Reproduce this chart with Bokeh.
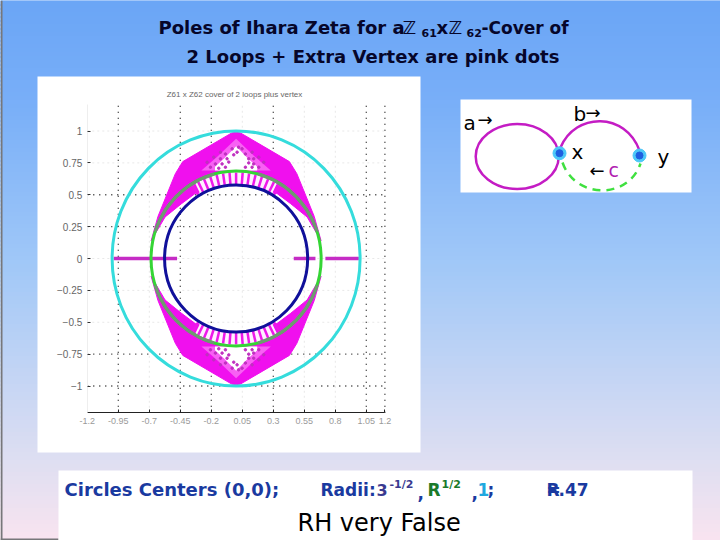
from bokeh.plotting import figure
from bokeh.models import Range1d, LinearAxis, FixedTicker
from bokeh.core.properties import value
from bokeh.embed import file_html
from bokeh.resources import INLINE
import numpy as np

# ---- data
radii = [0.577, 0.686, 1.0]
radii_colors = ["#10109a", "#35d535", "#35dcdc"]
x_ticks = [-1.2, -0.95, -0.7, -0.45, -0.2, 0.05, 0.3, 0.55, 0.8, 1.05, 1.2]
x_labels = ["-1.2", "-0.95", "-0.7", "-0.45", "-0.2", "0.05", "0.3", "0.55", "0.8", "1.05", "1.2"]
y_ticks = [-1, -0.75, -0.5, -0.25, 0, 0.25, 0.5, 0.75, 1]
grid_v_dark = [-0.95, -0.45, -0.2, 0.3, 1.05, 1.2]
grid_v_faint = [-0.7, 0.05, 0.55, 0.8]
grid_h_dark = [0.5, 0.25, -0.75, -1]
grid_h_faint = [1, 0.75, 0, -0.25, -0.5]

pink_x = [0.0, 0.035, 0.43, 0.49, 0.63, 0.685, 0.573, 0.44, 0.33, 0.17, 0.0,
          -0.17, -0.33, -0.44, -0.573, -0.685, -0.63, -0.49, -0.43, -0.035]
pink_y = [0.99, 0.985, 0.76, 0.665, 0.33, 0.14, 0.325, 0.43, 0.51, 0.56, 0.58,
          0.56, 0.51, 0.43, 0.325, 0.14, 0.33, 0.665, 0.76, 0.985]
halo_x = [0.0, 0.15, 0.28, -0.28, -0.15]
halo_y = [0.94, 0.80, 0.69, 0.69, 0.80]
hole_x = [0.0, 0.09, 0.17, 0.17, -0.17, -0.17, -0.09]
hole_y = [0.88, 0.79, 0.72, 0.69, 0.69, 0.72, 0.79]
gap_x = [-0.33, -0.20, -0.10, 0, 0.10, 0.20, 0.33, 0.29, 0.17, 0.09, 0, -0.09, -0.17, -0.29]
gap_y = [0.59, 0.65, 0.672, 0.68, 0.672, 0.65, 0.59, 0.51, 0.56, 0.578, 0.585, 0.578, 0.56, 0.51]
spoke_x0 = [0, 0.046, 0.092, 0.136, 0.181, 0.224, 0.266, 0.305, -0.046, -0.092, -0.136, -0.181, -0.224, -0.266, -0.305]
spoke_y0 = [0.585, 0.583, 0.578, 0.569, 0.556, 0.541, 0.521, 0.499, 0.583, 0.578, 0.569, 0.556, 0.541, 0.521, 0.499]
spoke_x1 = [0, 0.053, 0.105, 0.157, 0.209, 0.259, 0.306, 0.352, -0.053, -0.105, -0.157, -0.209, -0.259, -0.306, -0.352]
spoke_y1 = [0.675, 0.673, 0.667, 0.656, 0.642, 0.624, 0.601, 0.576, 0.673, 0.667, 0.656, 0.642, 0.624, 0.601, 0.576]
dots_x = [-0.032, 0.048, -0.086, -0.019, 0.075, -0.126, -0.073, 0.102, 0.142, -0.167, -0.113, -0.059, 0.102, 0.142,
          -0.207, -0.14, -0.086, 0.075, 0.129, 0.183, -0.234, 0.223, -0.18, 0.183, -0.126, 0.129, 0.02, 0.008]
dots_y = [0.86, 0.86, 0.82, 0.813, 0.82, 0.782, 0.782, 0.782, 0.782, 0.742, 0.742, 0.756, 0.75, 0.742,
          0.716, 0.708, 0.716, 0.716, 0.716, 0.716, 0.755, 0.755, 0.795, 0.795, 0.834, 0.834, 0.873, 0.834]
arc_x = [0.178, 0.29, 0.393, 0.485, 0.562, 0.622, 0.652]
arc_y = [0.663, 0.622, 0.562, 0.485, 0.393, 0.29, 0.212]
real_x0 = [-0.987, 0.465, 0.72]
real_x1 = [-0.476, 0.64, 0.99]

bg_y = [0, 100, 260, 460, 540]
bg_r = [107, 121, 160, 223, 250]
bg_g = [166, 175, 200, 223, 228]
bg_b = [246, 249, 248, 242, 240]

# ---- page in pixel coordinates, plot in its own data coordinates
p = figure(width=720, height=540, x_range=(0, 720), y_range=(540, 0),
           x_axis_location=None, y_axis_location=None, toolbar_location=None,
           output_backend="svg", min_border=0, outline_line_color=None)
p.grid.visible = False
p.extra_x_ranges["dx"] = Range1d(start=(0 - 235.6) / 124, end=(720 - 235.6) / 124)
p.extra_y_ranges["dy"] = Range1d(start=(258 - 540) / 127.5, end=(258 - 0) / 127.5)
D = dict(x_range_name="dx", y_range_name="dy")

edges = np.arange(0, 540, 4)
r = np.interp(edges, bg_y, bg_r).astype(int)
g = np.interp(edges, bg_y, bg_g).astype(int)
b = np.interp(edges, bg_y, bg_b).astype(int)
cols = [f"#{a:02x}{c:02x}{d:02x}" for a, c, d in zip(r, g, b)]
p.quad(left=0, right=720, top=edges, bottom=edges + 5, fill_color=cols, line_color=cols)
p.segment(x0=[1, 0], y0=[0, 539], x1=[1, 58], y1=[540, 539], line_color="#77777a", line_width=2)

# panels
p.quad(left=[37, 460, 58], right=[420, 691, 692], top=[76, 99, 470], bottom=[452, 192, 540],
       fill_color="white", line_color=None)

# grid
p.segment(x0=grid_v_dark, y0=-1.21, x1=grid_v_dark, y1=1.21, line_color="#222222", line_dash="1 5", line_width=1.3, **D)
p.segment(x0=grid_v_faint, y0=-1.21, x1=grid_v_faint, y1=1.21, line_color="#e8e8e8", line_dash="2 3", **D)
p.segment(x0=-1.2, y0=grid_h_dark, x1=1.2, y1=grid_h_dark, line_color="#222222", line_dash="1 5", line_width=1.3, **D)
p.segment(x0=-1.2, y0=grid_h_faint, x1=1.2, y1=grid_h_faint, line_color="#e8e8e8", line_dash="2 3", **D)

# axes
xa = LinearAxis(fixed_location=-1.21, ticker=FixedTicker(ticks=x_ticks), **D)
xa.major_label_overrides = {t: l for t, l in zip(x_ticks, x_labels)}
xa.bounds = (-1.2, 1.2)
xa.axis_line_color = "#222222"
xa.major_tick_line_color = "#222222"
xa.major_tick_in = 3
xa.major_tick_out = 0
xa.major_label_text_font_size = "9px"
xa.major_label_text_color = "#9a9a9a"
xa.major_label_standoff = 5
xa.minor_tick_line_color = None
p.add_layout(xa, "below")

ya = LinearAxis(fixed_location=-1.2, ticker=FixedTicker(ticks=y_ticks), **D)
ya.bounds = (-1.21, 1.21)
ya.axis_line_color = "#eeeeee"
ya.major_tick_line_color = "#333333"
ya.major_tick_in = 3
ya.major_tick_out = 0
ya.major_label_text_font_size = "10px"
ya.major_label_text_color = "#666666"
ya.major_label_standoff = 5
ya.minor_tick_line_color = None
p.add_layout(ya, "left")

# poles, upper and lower half
for s in (1, -1):
    p.patch(pink_x, [s * v for v in pink_y], fill_color="#f010ee", line_color="#f010ee", **D)
    p.patch(halo_x, [s * v for v in halo_y], fill_color="#f860f4", line_color=None, **D)
    p.patch(hole_x, [s * v for v in hole_y], fill_color="white", line_color=None, **D)
    p.patch(gap_x, [s * v for v in gap_y], fill_color="#fff0ff", line_color=None, **D)
    p.segment(spoke_x0, [s * v for v in spoke_y0], spoke_x1, [s * v for v in spoke_y1],
              line_color="#ee18ea", line_width=2.5, **D)
    p.scatter(dots_x, [s * v for v in dots_y], size=2.5, color="#c030c0", **D)

p.segment(real_x0, 0, real_x1, 0, line_color="#c52cc5", line_width=3.5, **D)

# circles
for rad, col in zip(radii, radii_colors):
    p.ellipse(x=0, y=0, width=2 * rad, height=2 * rad, fill_color=None, line_color=col, line_width=3, **D)

for sx in (1, -1):
    for sy in (1, -1):
        p.line([sx * v for v in arc_x], [sy * v for v in arc_y], line_color="#6e9a70", line_width=3.2, **D)

# chart title
p.text(x=[234], y=[94], text=["Z61 x Z62 cover of 2 loops plus vertex"], text_font_size="8px",
       text_color="#666666", text_align="center", text_baseline="middle")

# diagram
loop_x, loop_y, loop_w, loop_h = [516.7], [156], [83], [65]
p.ellipse(loop_x, loop_y, width=loop_w, height=loop_h, fill_color=None, line_color="#c41cc4", line_width=2.5)
p.bezier(x0=[560], y0=[147], x1=[639], y1=[150], cx0=[575], cy0=[111.4], cx1=[625], cy1=[111.4],
         line_color="#c41cc4", line_width=2.5)
p.bezier(x0=[562], y0=[162], x1=[640], y1=[163], cx0=[575], cy0=[199], cx1=[628], cy1=[199],
         line_color="#40e040", line_width=2.5, line_dash="8 6")
node_x, node_y = [559, 639], [152.7, 155]
p.scatter(node_x, node_y, size=13, color="#4cc8f8")
p.scatter(node_x, node_y, size=7, color="#1f5fe0")

def t(x, y, s, size, color="#000000", bold=False, align="left", font="DejaVu Sans"):
    p.text(x=[x], y=[y], text=[s], text_font=value(font), text_font_size=f"{size}px", text_color=color,
           text_font_style="bold" if bold else "normal", text_align=align, text_baseline="middle")

t(463, 122, "a", 20)
t(477, 119, "→", 18)
t(573, 113, "b", 20)
t(585, 112, "→", 18)
t(571, 151, "x", 20)
t(657, 156, "y", 20)
t(589, 170, "←", 18)
t(608, 169, "c", 19, "#b020b0")

# page title
T = "#06062a"
t(158, 27, "Poles of Ihara Zeta for a", 18, T, True)
t(402, 27, "ℤ", 18, T, True)
t(421, 32, "61", 11, T, True)
t(436, 27, "x", 18, T, True)
t(448, 27, "ℤ", 18, T, True)
t(466, 32, "62", 11, T, True)
t(481, 27, "-Cover of", 17, T, True)
t(186, 56, "2 Loops + Extra Vertex are pink dots", 18, T, True)

# bottom notes
B = "#1a3aa0"
t(64, 489, "Circles Centers (0,0);", 18, B, True)
t(320, 489, "Radii:", 17, B, True)
t(376, 489, "3", 16, "#3a3a90", True)
t(389, 484, "-1/2", 11, "#3a3a90", True)
t(417, 492, ",", 17, B, True)
t(427, 489, "R", 17, "#1a7a2a", True)
t(441, 484, "1/2", 11, "#1a7a2a", True)
t(471, 492, ",", 17, B, True)
t(477, 489, "1", 17, "#20a8e0", True)
t(487, 489, ";", 17, B, True)
t(546, 489, "R", 17, B, True)
t(546, 489, "=", 17, B, True)
t(558, 489, ".47", 17, B, True)
t(297, 522, "RH very False", 24)

open("out.html", "w").write(file_html(p, INLINE))
